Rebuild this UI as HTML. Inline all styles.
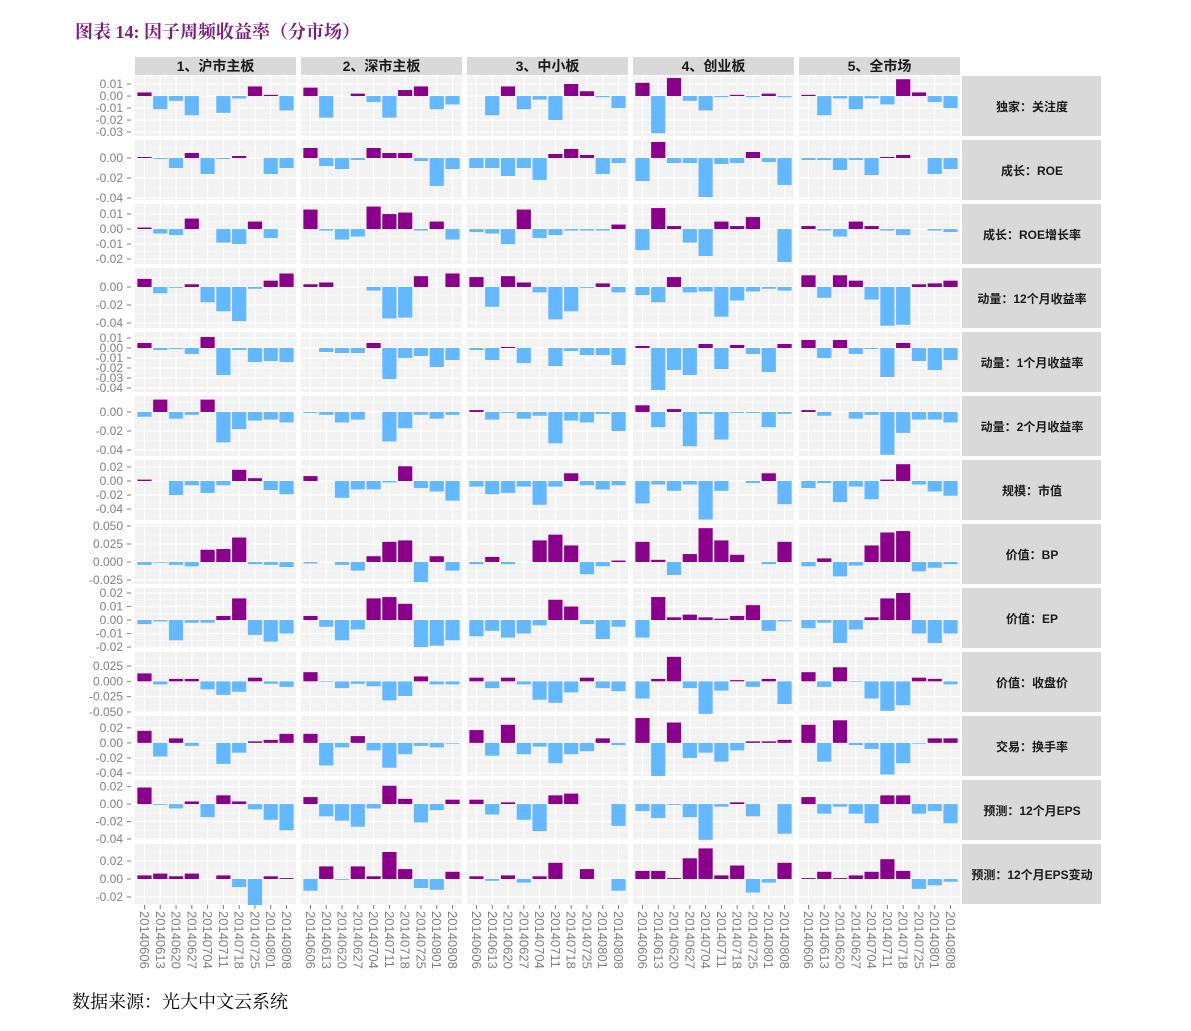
<!DOCTYPE html>
<html><head><meta charset="utf-8">
<style>
html,body{margin:0;padding:0;background:#fff;}
body{width:1191px;height:1031px;position:relative;overflow:hidden;font-family:"Liberation Sans","Noto Sans CJK SC",sans-serif;}
#title{position:absolute;left:75px;top:18px;font:bold 18px "Liberation Serif","Noto Serif CJK SC",serif;color:#7B1C7B;}
#source{position:absolute;left:72px;top:988px;font:18px "Liberation Serif","Noto Serif CJK SC",serif;color:#000;}
</style></head>
<body>
<div id="title">图表 14:  因子周频收益率（分市场）</div>
<svg id="chart" width="1191" height="1031" style="position:absolute;left:0;top:0"></svg>
<div id="source">数据来源：光大中文云系统</div>
<script>
const dates=["20140606","20140613","20140620","20140627","20140704","20140711","20140718","20140725","20140801","20140808"];
const markets=["1、沪市主板","2、深市主板","3、中小板","4、创业板","5、全市场"];
const factors=["独家：关注度","成长：ROE","成长：ROE增长率","动量：12个月收益率","动量：1个月收益率","动量：2个月收益率","规模：市值","价值：BP","价值：EP","价值：收盘价","交易：换手率","预测：12个月EPS","预测：12个月EPS变动"];
const yDomains=[[-0.0333,0.0167],[-0.042,0.018],[-0.0233,0.0167],[-0.0456,0.0211],[-0.044,0.016],[-0.0463,0.0168],[-0.0557,0.03],[-0.0306,0.0528],[-0.0207,0.0237],[-0.05,0.0479],[-0.044,0.0357],[-0.0412,0.0276],[-0.0278,0.0389]];
const yTicks=[[0.01,0,-0.01,-0.02,-0.03],[0,-0.02,-0.04],[0.01,0,-0.01,-0.02],[0,-0.02,-0.04],[0.01,0,-0.01,-0.02,-0.03,-0.04],[0,-0.02,-0.04],[0.02,0,-0.02,-0.04],[0.05,0.025,0,-0.025],[0.02,0.01,0,-0.01,-0.02],[0.025,0,-0.025,-0.05],[0.02,0,-0.02,-0.04],[0.02,0,-0.02,-0.04],[0.02,0,-0.02]];
const yTickLabels=[["0.01","0.00","-0.01","-0.02","-0.03"],["0.00","-0.02","-0.04"],["0.01","0.00","-0.01","-0.02"],["0.00","-0.02","-0.04"],["0.01","0.00","-0.01","-0.02","-0.03","-0.04"],["0.00","-0.02","-0.04"],["0.02","0.00","-0.02","-0.04"],["0.050","0.025","0.000","-0.025"],["0.02","0.01","0.00","-0.01","-0.02"],["0.025","0.000","-0.025","-0.050"],["0.02","0.00","-0.02","-0.04"],["0.02","0.00","-0.02","-0.04"],["0.02","0.00","-0.02"]];
const r1=[[.003,-.011,-.004,-.016,0,-.014,-.002,.008,.001,-.012],[.007,-.018,0,.002,-.005,-.018,.005,.008,-.011,-.007],[0,-.016,.008,-.011,-.003,-.020,.010,.004,-.001,-.010],[.011,-.031,.015,-.004,-.012,-.001,.001,-.001,.002,-.001],[.001,-.016,-.002,-.011,-.002,-.007,.014,.003,-.005,-.010]];
const r2=[[.001,-.001,-.010,.005,-.016,-.001,.002,0,-.016,-.010],[.010,-.008,-.011,-.002,.010,.005,.005,-.003,-.028,-.011],[-.010,-.010,-.018,-.010,-.022,.004,.009,.003,-.016,-.005],[-.023,.016,-.005,-.005,-.039,-.006,-.005,.006,-.004,-.027],[-.002,-.002,-.012,-.002,-.017,.001,.003,0,-.016,-.011]];
const r3=[[.001,-.003,-.004,.007,0,-.009,-.010,.005,-.006,0],[.013,-.001,-.007,-.005,.015,.010,.011,-.001,.005,-.007],[-.002,-.003,-.010,.013,-.006,-.004,-.001,-.001,-.001,.003],[-.014,.014,.002,-.009,-.018,.005,.002,.008,0,-.022],[.002,-.001,-.005,.005,.002,-.001,-.004,0,-.001,-.002]];
const r4=[[.009,-.007,-.001,.003,-.017,-.027,-.038,-.002,.007,.015],[.003,.005,0,0,-.004,-.035,-.034,.012,0,.015],[.011,-.022,.012,.005,-.006,-.036,-.027,-.001,.004,-.006],[-.009,-.017,.011,-.006,-.005,-.033,-.015,-.005,-.002,-.004],[.013,-.012,.013,.007,-.014,-.043,-.042,.003,.004,.007]];
const r5=[[.005,-.002,-.001,-.006,.011,-.027,-.002,-.014,-.013,-.014],[0,-.004,-.005,-.005,.005,-.031,-.010,-.008,-.019,-.012],[-.002,-.012,.001,-.015,0,-.018,-.003,-.007,-.007,-.017],[.002,-.042,-.022,-.027,.004,-.021,.003,-.006,-.024,.004],[.008,-.010,.008,-.006,-.001,-.029,.005,-.013,-.022,-.012]];
const r6=[[-.005,.013,-.007,-.003,.013,-.032,-.018,-.009,-.008,-.011],[-.001,-.003,-.011,-.008,0,-.031,-.017,-.003,-.007,-.003],[.002,-.008,-.001,-.007,-.004,-.033,-.009,-.011,-.002,-.020],[.007,-.016,.003,-.036,-.002,-.029,-.001,-.001,-.016,-.002],[.002,-.004,0,-.007,-.003,-.045,-.022,-.008,-.008,-.011]];
const r7=[[.002,0,-.020,-.006,-.017,-.006,.016,.004,-.013,-.019],[.007,0,-.024,-.012,-.012,-.002,.021,-.010,-.015,-.028],[-.008,-.019,-.017,-.008,-.034,-.008,.011,-.006,-.012,-.006],[-.032,-.005,-.014,-.005,-.055,-.014,0,-.003,.011,-.033],[-.010,-.003,-.030,-.008,-.026,.002,.024,-.005,-.015,-.021]];
const r8=[[-.004,-.001,-.004,-.006,.017,.018,.034,-.003,-.004,-.007],[-.002,0,-.004,-.012,.008,.028,.030,-.028,.008,-.012],[-.003,.007,-.003,0,.030,.038,.023,-.017,-.006,.002],[.028,.003,-.018,.011,.047,.030,.010,0,-.003,.028],[-.006,.005,-.020,-.005,.023,.041,.043,-.013,-.008,-.003]];
const r9=[[-.003,-.001,-.015,-.002,-.002,.003,.016,-.011,-.016,-.010],[.003,-.005,-.015,-.007,.016,.017,.012,-.020,-.019,-.015],[-.012,-.008,-.013,-.010,-.004,.015,.010,-.003,-.014,-.005],[-.013,.017,.002,.004,.002,.001,.003,.011,-.008,-.001],[-.006,-.002,-.017,-.007,.002,.016,.020,-.010,-.017,-.010]];
const r10=[[.013,-.005,.004,.004,-.013,-.022,-.017,.006,-.004,-.009],[.015,-.001,-.011,-.004,-.008,-.031,-.024,.008,-.005,-.005],[.006,-.011,.006,-.005,-.030,-.035,-.018,.006,-.011,-.016],[-.028,.004,.040,-.011,-.053,-.015,.002,-.009,.004,-.037],[.015,-.009,.023,-.001,-.028,-.048,-.039,.006,.004,-.005]];
const r11=[[.016,-.018,.006,-.004,0,-.028,-.013,.002,.004,.012],[.012,-.030,-.006,.009,-.010,-.033,-.015,-.004,-.006,-.001],[.017,-.017,.024,-.015,-.005,-.027,-.015,-.011,.006,-.003],[.033,-.044,.027,-.020,-.013,-.025,-.010,.002,.002,.004],[.024,-.025,.030,-.003,-.008,-.042,-.027,-.001,.006,.006]];
const r12=[[.019,-.001,-.005,.003,-.015,.010,.003,-.006,-.018,-.030],[.008,-.014,-.019,-.026,-.005,.021,.006,-.021,-.007,.005],[.005,-.012,.002,-.018,-.031,.010,.012,0,0,-.025],[-.008,-.016,-.001,-.015,-.041,-.003,.002,-.014,0,-.034],[.008,-.011,-.003,-.011,-.022,.010,.010,-.011,-.008,-.022]];
const r13=[[.004,.006,.003,.006,0,.004,-.009,-.029,.003,.001],[-.013,.014,-.001,.014,.003,.030,.011,-.010,-.012,.008],[.003,-.002,.004,-.004,.003,.018,0,.011,0,-.013],[.009,.009,.001,.023,.034,.004,.015,-.015,-.004,.018],[.001,.008,.001,.004,.008,.022,.009,-.011,-.007,-.003]];
const values=[r1,r2,r3,r4,r5,r6,r7,r8,r9,r10,r11,r12,r13];

const NS="http://www.w3.org/2000/svg";
const svg=document.getElementById("chart");
function mk(tag,attrs,parent){const e=document.createElementNS(NS,tag);for(const k in attrs)e.setAttribute(k,attrs[k]);(parent||svg).appendChild(e);return e;}
const colLeft=[135,301,467,633,799], panelW=161, rowTop0=76, rowStep=64, panelH=60;
const unit=panelW/10.2;
function xPos(c,i){return colLeft[c]+(i+0.6)*unit;}
function yScale(r,v){const d=yDomains[r];const top=rowTop0+r*rowStep;return top+panelH*(d[1]-v)/(d[1]-d[0]);}

// column strips
markets.forEach((m,c)=>{
  const s=mk("rect",{x:colLeft[c],y:57,width:panelW,height:18,fill:"#D9D9D9"});
  
  
  const t=mk("text",{x:colLeft[c]+panelW/2,y:71,"text-anchor":"middle","font-size":"14","font-weight":"bold",fill:"#1A1A1A","font-family":'"Liberation Sans","Noto Sans CJK SC",sans-serif'});
  t.textContent=m;
  
  
});

factors.forEach((f,r)=>{
  const top=rowTop0+r*rowStep;
  // row strip
  const rs=mk("rect",{x:962,y:top,width:139,height:panelH,fill:"#D9D9D9"});
  
  
  const rt=mk("text",{x:1032,y:top+panelH/2+5,"text-anchor":"middle","font-size":"12","font-weight":"bold",fill:"#1A1A1A","font-family":'"Liberation Sans","Noto Sans CJK SC",sans-serif'});
  rt.textContent=f;
  
  
  // y ticks
  const ticks=yTicks[r];
  ticks.forEach((tv,k)=>{
    const y=yScale(r,tv);
    const tl=mk("text",{x:123,y:y+4,"text-anchor":"end","font-size":"12",fill:"#7F7F7F"});
    tl.textContent=yTickLabels[r][k];
    
    
    mk("line",{x1:127,x2:131,y1:y,y2:y,stroke:"#7F7F7F","stroke-width":1});
  });
  const step=Math.abs(ticks[0]-ticks[1]);
  const minors=[];
  for(let k=-1;k<ticks.length;k++){
    const a=k<0?ticks[0]+step:ticks[k];
    minors.push(a-step/2);
  }
  for(let c=0;c<5;c++){
    const g=mk("g",{});
    
    
    mk("rect",{x:colLeft[c],y:top,width:panelW,height:panelH,fill:"#F2F2F2"},g);
    const d=yDomains[r];
    minors.forEach(mv=>{if(mv>d[0]&&mv<d[1]){const y=yScale(r,mv);mk("line",{x1:colLeft[c],x2:colLeft[c]+panelW,y1:y,y2:y,stroke:"#FAFAFA","stroke-width":0.6},g);}});
    ticks.forEach(tv=>{const y=yScale(r,tv);mk("line",{x1:colLeft[c],x2:colLeft[c]+panelW,y1:y,y2:y,stroke:"#FFFFFF","stroke-width":1.2},g);});
    for(let i=0;i<10;i++){const x=xPos(c,i);mk("line",{x1:x,x2:x,y1:top,y2:top+panelH,stroke:"#FFFFFF","stroke-width":1.2},g);}
    values[r][c].forEach((v,i)=>{
      if(v===0)return;
      const y0=yScale(r,0),y1=yScale(r,v);
      const b=mk("rect",{x:xPos(c,i)-unit*0.45,y:Math.min(y0,y1),width:unit*0.9,height:Math.abs(y1-y0),fill:v>0?"#8B008B":"#63B8FF"},g);
      
      
    });
  }
});

// x axis labels
for(let c=0;c<5;c++){
  dates.forEach((dt,i)=>{
    const x=xPos(c,i);
    mk("line",{x1:x,x2:x,y1:905,y2:909,stroke:"#7F7F7F","stroke-width":1});
    const t=mk("text",{x:0,y:0,"font-size":"13",fill:"#7F7F7F",transform:`translate(${x-4.5},911) rotate(90)`});
    t.textContent=dt;
    
    
  });
}
</script>
</body></html>
